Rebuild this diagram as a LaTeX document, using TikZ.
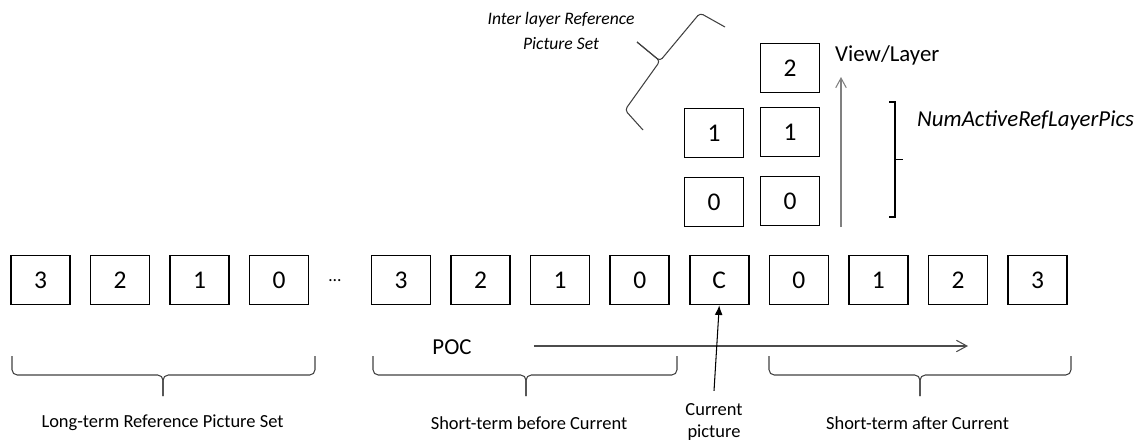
\documentclass[tikz,border=0pt]{standalone}
\usepackage{fontspec}
\setmainfont{Carlito}
\usetikzlibrary{positioning}
\usetikzlibrary{arrows.meta}

\tikzset{
  picbox/.style={draw, line width=0.9pt, minimum width=1.18cm, minimum height=0.98cm,
    inner sep=0pt, font=\fontsize{14.5}{17}\selectfont},
  lbl/.style={font=\fontsize{10.5}{13}\selectfont, align=center},
  biglbl/.style={font=\fontsize{13}{15}\selectfont},
  braceline/.style={line width=0.6pt, black!75, rounded corners=3pt},
  pocarrow/.style={line width=0.6pt, black!70, -{Straight Barb[length=6pt,width=6.5pt]}}
}

\begin{document}
\begin{tikzpicture}[x=0.02cm, y=-0.02cm, node distance=0.38cm]
  \useasboundingbox (0,0) rectangle (1145,444);

  % long-term pictures
  \node [picbox] (lt3) at (40.5,280) {3};
  \node [picbox, right=of lt3] (lt2) {2};
  \node [picbox, right=of lt2] (lt1) {1};
  \node [picbox, right=of lt1] (lt0) {0};
  \node (dots) at (335,281) {\dots};

  % short-term before, current, short-term after
  \node [picbox] (sb3) at (401,280) {3};
  \node [picbox, right=of sb3] (sb2) {2};
  \node [picbox, right=of sb2] (sb1) {1};
  \node [picbox, right=of sb1] (sb0) {0};
  \node [picbox, right=of sb0] (cur) {C};
  \node [picbox, right=of cur] (sa0) {0};
  \node [picbox, right=of sa0] (sa1) {1};
  \node [picbox, right=of sa1] (sa2) {2};
  \node [picbox, right=of sa2] (sa3) {3};

  % inter layer pictures
  \node [picbox] (il0) at (714,202) {0};
  \node [picbox] (il1) at (714,133) {1};
  \node [picbox] (vl0) at (790,201) {0};
  \node [picbox] (vl1) at (790,132) {1};
  \node [picbox] (vl2) at (790,68) {2};

  % view/layer axis
  \coordinate (vbot) at (841,227);
  \coordinate (vtop) at (841,77);
  \draw [line width=0.6pt, black!50, -{Straight Barb[length=5.5pt,width=6pt]}] (vbot) to (vtop);
  \node [biglbl, anchor=west] (view) at (829,55) {View/Layer};

  \draw [line width=0.7pt] (889,102) -- (895,102) -- (895,217) -- (889,217);
  \draw [line width=0.7pt] (895,159.5) -- (903,159.5);
  \node [biglbl, anchor=west] (numact) at (911,120) {\itshape NumActiveRefLayerPics};

  % inter layer set brace
  \draw [braceline, rounded corners=2pt] (725,27) -- (700,13) -- (660,61) -- (637,42);
  \draw [braceline, rounded corners=2pt] (643,130) -- (625,110) -- (660,61) -- (637,42);
  \node [lbl, font=\fontsize{10}{14}\selectfont\itshape] (ilset) at (561,31) {Inter layer Reference\\Picture Set};

  % POC axis
  \node [biglbl] (poc) at (452,347) {POC};
  \coordinate (pocend) at (968,346);
  \draw [pocarrow] (poc.east) ++(56,-1) coordinate (pocstart) (pocstart) to (pocend);

  % current picture
  \node [lbl] (curlbl) at (714,422) {Current\\picture};
  \draw [line width=0.6pt, -{Latex[length=5.5pt,width=4.5pt]}] (curlbl.north) ++(0,-6) coordinate (curtail) (curtail) to (cur.south);

  % braces below
  \draw [braceline] (12,356) |- (163,375) -- (163,396);
  \draw [braceline] (315,356) |- (163,375) -- (163,396);
  \draw [braceline] (373,356) |- (526,375) -- (526,396);
  \draw [braceline] (677,356) |- (526,375) -- (526,396);
  \draw [braceline] (769,356) |- (920,375) -- (920,396);
  \draw [braceline] (1071,356) |- (920,375) -- (920,396);

  \node [lbl] (ltset) at (162.5,423) {Long-term Reference Picture Set};
  \node [lbl] (stbefore) at (529,423) {Short-term before Current};
  \node [lbl] (stafter) at (917.5,423) {Short-term after Current};
\end{tikzpicture}
\end{document}
